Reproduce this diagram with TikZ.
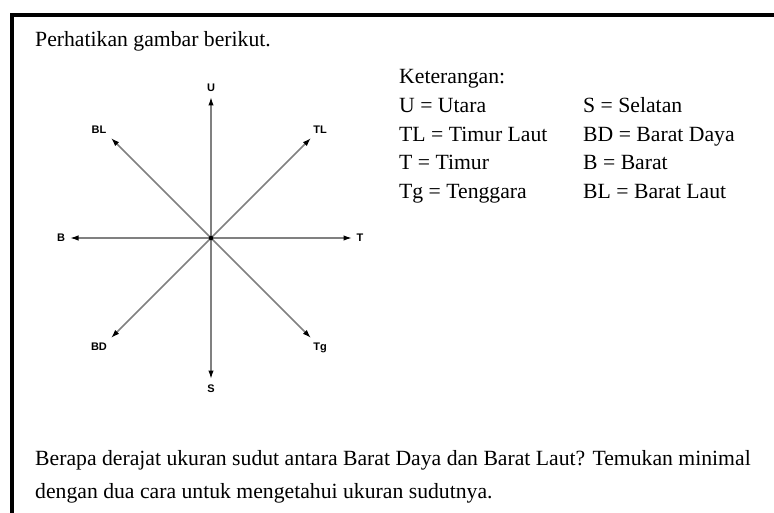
\documentclass[tikz,border=0pt]{standalone}
\usepackage{fontspec}
\setmainfont{Liberation Serif}
\newfontfamily\compassfont{Liberation Sans}
\usetikzlibrary{arrows.meta}
\begin{document}
\begin{tikzpicture}[x=1pt,y=-1pt,
  txt/.style={anchor=base west, inner sep=0pt, font=\fontsize{21.7}{26}\selectfont},
  dirlbl/.style={inner sep=0pt, font=\compassfont\bfseries\fontsize{11}{13}\selectfont, text=black},
  dirarrow/.style={draw=black!50, line width=1.5pt, -{Latex[length=8.5pt,width=5.5pt,color=black]}},
  frameline/.style={line width=4pt, black}]
\useasboundingbox (0,0) rectangle (774,513);
\fill[white] (0,0) rectangle (774,513);
% frame
\draw[frameline] (12,515) -- (12,15.3) -- (776,15.3);
% texts
\node[txt] (title) at (35,47) {Perhatikan gambar berikut.};
\node[txt] (ket) at (399,84) {Keterangan:};
\node[txt] (l1) at (399,113) {U = Utara};
\node[txt] (l2) at (399,141.5) {TL = Timur Laut};
\node[txt] (l3) at (399,170) {T = Timur};
\node[txt] (l4) at (399,198.5) {Tg = Tenggara};
\node[txt] (r1) at (583,113) {S = Selatan};
\node[txt] (r2) at (583,141.5) {BD = Barat Daya};
\node[txt] (r3) at (583,170) {B = Barat};
\node[txt] (r4) at (583,198.5) {BL = Barat Laut};
\node[txt] (q1) at (35,465) {Berapa derajat ukuran sudut antara Barat Daya dan Barat Laut? Temukan minimal};
\node[txt] (q2) at (35,498) {dengan dua cara untuk mengetahui ukuran sudutnya.};
% compass
\coordinate (o) at (211,238);
\coordinate (tU) at (211,97);
\coordinate (tS) at (211,379);
\coordinate (tB) at (70,238);
\coordinate (tT) at (352,238);
\coordinate (tTL) at (311,138);
\coordinate (tBL) at (111,138);
\coordinate (tBD) at (111,338);
\coordinate (tTg) at (311,338);
\foreach \t in {tU,tS,tB,tT,tTL,tBL,tBD,tTg}
  \draw[dirarrow] (o) -- (\t);
\fill[black] (o) circle (2.3pt);
\node[dirlbl] (U) at (211,88) {U};
\node[dirlbl] (S) at (211,389) {S};
\node[dirlbl] (B) at (61,238) {B};
\node[dirlbl] (T) at (360,238) {T};
\node[dirlbl] (BL) at (99,130) {BL};
\node[dirlbl] (TL) at (320,130) {TL};
\node[dirlbl] (BD) at (99,347) {BD};
\node[dirlbl] (Tg) at (320,348) {Tg};
\end{tikzpicture}
\end{document}
